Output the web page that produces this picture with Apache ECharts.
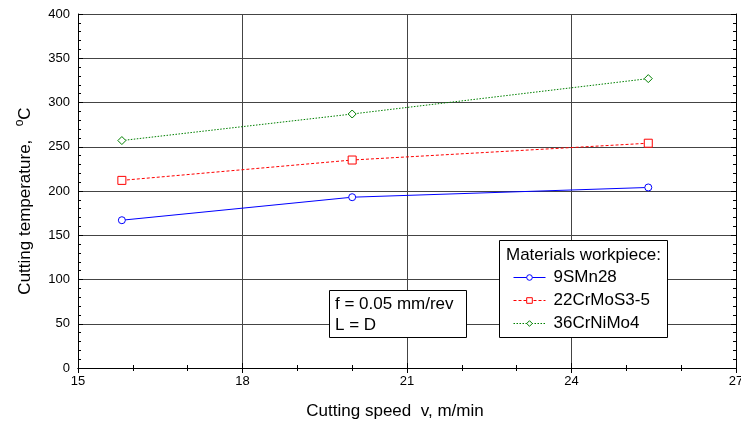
<!DOCTYPE html>
<html>
<head>
<meta charset="utf-8">
<script src="https://cdn.jsdelivr.net/npm/echarts@6/dist/echarts.min.js"></script>
<style>
  html, body { margin: 0; padding: 0; background: #fff; }
  #chart { width: 741px; height: 425px; }
</style>
</head>
<body>
<div id="chart"></div>
<script>
// cutting speed v, m/min
const speeds = [15.8, 20.0, 25.4];
// cutting temperature, °C
const tempSMn = [167, 193, 204];
const tempCrMoS = [212, 235, 254];
const tempCrNiMo = [257, 287, 327];
const seriesNames = ['9SMn28', '22CrMoS3-5', '36CrNiMo4'];

const font = 'Liberation Sans, Arial, sans-serif';

function pairs(ys) {
    return speeds.map((x, i) => [x, ys[i]]);
}

function makeSeries(name, ys, color, symbol, size, dash) {
    return {
        name: name,
        type: 'line',
        data: pairs(ys),
        symbol: symbol,
        symbolSize: size,
        itemStyle: { color: '#fff', borderColor: color, borderWidth: 1 },
        lineStyle: { color: color, width: 1, type: dash },
        emphasis: { disabled: true },
        z: 3
    };
}

const boxAxis = {
    axisLine: { show: true, lineStyle: { color: '#000', width: 1 } },
    axisTick: { show: true, inside: true, length: 5, lineStyle: { color: '#000' } },
    minorTick: { show: true, splitNumber: 3, length: 3, lineStyle: { color: '#000' } },
    axisLabel: { show: false },
    splitLine: { show: false }
};

let chart = echarts.init(document.getElementById('chart'));
let option = {
    animation: false,
    backgroundColor: '#fff',
    grid: { left: 78, right: 5, top: 14, bottom: 57, containLabel: false, outerBoundsMode: 'none' },
    xAxis: [{
        type: 'value', min: 15, max: 27, interval: 3,
        name: 'Cutting speed  v, m/min',
        nameLocation: 'middle', nameGap: 35,
        nameTextStyle: { fontFamily: font, fontSize: 17, color: '#000', padding: [0, 24, 0, 0] },
        axisLine: { show: true, lineStyle: { color: '#000', width: 1 } },
        axisTick: { show: true, inside: true, length: 5, lineStyle: { color: '#000' } },
        minorTick: { show: true, splitNumber: 3, length: 3, lineStyle: { color: '#000' } },
        axisLabel: { fontFamily: font, fontSize: 13, color: '#000', margin: 7 },
        splitLine: { show: true, lineStyle: { color: '#444', width: 1 } }
    }, Object.assign({ type: 'value', min: 15, max: 27, interval: 3, position: 'top' }, boxAxis)],
    yAxis: [{
        type: 'value', min: 0, max: 400, interval: 50,
        name: '{t|Cutting temperature,}    {s|o}{t|C}',
        nameLocation: 'middle', nameGap: 41, nameRotate: 90,
        nameTextStyle: {
            padding: [0, 20, 0, 0],
            rich: {
                t: { fontFamily: font, fontSize: 17, color: '#000' },
                s: { fontFamily: font, fontSize: 12, color: '#000', verticalAlign: 'bottom', padding: [0, 0, 11, 0] }
            }
        },
        axisLine: { show: true, lineStyle: { color: '#000', width: 1 } },
        axisTick: { show: true, inside: true, length: 5, lineStyle: { color: '#000' } },
        minorTick: { show: true, splitNumber: 5, length: 3, lineStyle: { color: '#000' } },
        axisLabel: { fontFamily: font, fontSize: 13, color: '#000', margin: 8 },
        splitLine: { show: true, lineStyle: { color: '#444', width: 1 } }
    }, Object.assign({ type: 'value', min: 0, max: 400, interval: 50, position: 'right' },
        boxAxis, { minorTick: { show: true, splitNumber: 5, length: 3, lineStyle: { color: '#000' } } })],
    legend: {
        orient: 'vertical',
        left: 508, top: 264,
        itemWidth: 32, itemHeight: 7, itemGap: 6,
        lineStyle: { width: 1 },
        itemStyle: { borderWidth: 1 },
        textStyle: { fontFamily: font, fontSize: 17, color: '#000', padding: [0, 0, 0, 3] },
        data: seriesNames,
        z: 5
    },
    graphic: [
        {
            type: 'rect', z: 4,
            shape: { x: 499.5, y: 240.5, width: 168, height: 97 },
            style: { fill: '#fff', stroke: '#000', lineWidth: 1 }
        },
        {
            type: 'text', z: 5, left: 506, top: 247,
            style: { text: 'Materials workpiece:', font: '17px ' + font, fill: '#000' }
        },
        {
            type: 'rect', z: 4,
            shape: { x: 329.5, y: 290.5, width: 137, height: 47 },
            style: { fill: '#fff', stroke: '#000', lineWidth: 1 }
        },
        {
            type: 'text', z: 5, left: 335, top: 294,
            style: { text: 'f = 0.05 mm/rev\nL = D', font: '17px ' + font, fill: '#000', lineHeight: 21 }
        }
    ],
    series: [
        makeSeries(seriesNames[0], tempSMn, '#0000ff', 'circle', 7, 'solid'),
        makeSeries(seriesNames[1], tempCrMoS, '#ff0000', 'rect', 8, [3, 2]),
        makeSeries(seriesNames[2], tempCrNiMo, '#008000', 'diamond', 8, [1.5, 1.5])
    ]
};
chart.setOption(option);
</script>
</body>
</html>
